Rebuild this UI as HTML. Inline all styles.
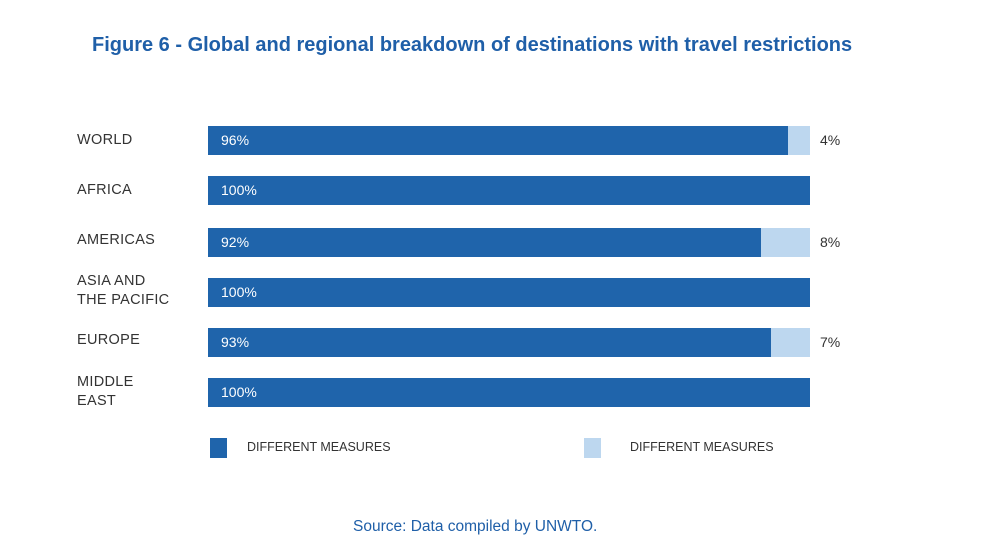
<!DOCTYPE html>
<html><head><meta charset="utf-8"><style>
body{margin:0;width:1000px;height:560px;background:#fff;position:relative;font-family:"Liberation Sans",sans-serif;overflow:hidden}
div{position:absolute}
.t{left:92px;top:34px;font-size:20px;font-weight:bold;color:#1f5fa8;white-space:nowrap}
.l{left:77px;font-size:14.5px;color:#333;line-height:19px;letter-spacing:0.3px}
.d{left:208px;height:29px;background:#1f64ab}
.g{height:29px;background:#bdd7ef}
.v{left:221px;font-size:14px;color:#fff;line-height:29px}
.r{left:820px;font-size:14px;color:#333;line-height:29px}
.leg{font-size:12.5px;color:#333}
</style></head><body>
<div class="t">Figure 6 - Global and regional breakdown of destinations with travel restrictions</div>

<div class="l" style="top:131px">WORLD</div>
<div class="d" style="top:126px;width:580px"></div><div class="g" style="top:126px;left:788px;width:22px"></div>
<div class="v" style="top:126px">96%</div><div class="r" style="top:126px">4%</div>

<div class="l" style="top:181px">AFRICA</div>
<div class="d" style="top:176px;width:602px"></div>
<div class="v" style="top:176px">100%</div>

<div class="l" style="top:231px">AMERICAS</div>
<div class="d" style="top:228px;width:553px"></div><div class="g" style="top:228px;left:761px;width:49px"></div>
<div class="v" style="top:228px">92%</div><div class="r" style="top:228px">8%</div>

<div class="l" style="top:272px">ASIA AND<br>THE PACIFIC</div>
<div class="d" style="top:278px;width:602px"></div>
<div class="v" style="top:278px">100%</div>

<div class="l" style="top:331px">EUROPE</div>
<div class="d" style="top:328px;width:563px"></div><div class="g" style="top:328px;left:771px;width:39px"></div>
<div class="v" style="top:328px">93%</div><div class="r" style="top:328px">7%</div>

<div class="l" style="top:373px">MIDDLE<br>EAST</div>
<div class="d" style="top:378px;width:602px"></div>
<div class="v" style="top:378px">100%</div>

<div style="left:210px;top:438px;width:17px;height:20px;background:#1f64ab"></div>
<div class="leg" style="left:247px;top:440px">DIFFERENT MEASURES</div>
<div style="left:584px;top:438px;width:17px;height:20px;background:#bdd7ef"></div>
<div class="leg" style="left:630px;top:440px">DIFFERENT MEASURES</div>

<div style="left:353px;top:518px;font-size:15.5px;color:#1f5fa8">Source: Data compiled by UNWTO.</div>
</body></html>
